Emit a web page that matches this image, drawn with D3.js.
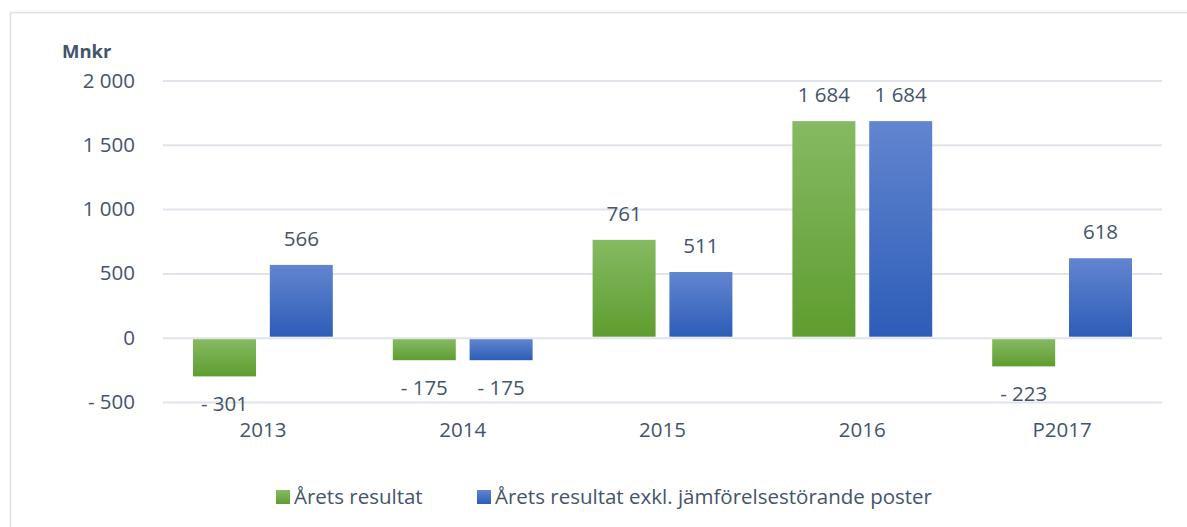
<!DOCTYPE html>
<html>
<head>
<meta charset="utf-8">
<script src="https://cdn.jsdelivr.net/npm/d3@7"></script>
<style>
  html, body { margin: 0; padding: 0; background: #fff; }
  svg { display: block; font-family: "Open Sans", "Noto Sans", sans-serif; }
</style>
</head>
<body>
<div class="container"></div>
<script>
// data
const categories = ["2013", "2014", "2015", "2016", "P2017"];
const seriesNames = ["Årets resultat", "Årets resultat exkl. jämförelsestörande poster"];
const aretsResultat = [-301, -175, 761, 1684, -223];
const exklJmf = [566, -175, 511, 1684, 618];
const yTicks = [-500, 0, 500, 1000, 1500, 2000];

const W = 1187, H = 527;
const margin = { top: 80.5, right: 25, bottom: 125, left: 163 };
const width = W - margin.left - margin.right;
const height = 402 - 80.5;

const textColor = "#44546a";
const fontSize = "20.5px";
const fmt = v => {
  const s = d3.format(",")(Math.abs(v)).replace(/,/g, " ");
  return v < 0 ? "- " + s : s;
};

const svg = d3.select(".container").append("svg")
  .attr("width", W).attr("height", H);

// gradients
const defs = svg.append("defs");
const grads = [
  { id: "gGreen", top: "#86ba63", bottom: "#5e9d2f" },
  { id: "gBlue", top: "#6285d0", bottom: "#2d5db7" }
];
grads.forEach(g => {
  const lg = defs.append("linearGradient").attr("id", g.id)
    .attr("x1", 0).attr("y1", 0).attr("x2", 0).attr("y2", 1);
  lg.append("stop").attr("offset", "0%").attr("stop-color", g.top);
  lg.append("stop").attr("offset", "100%").attr("stop-color", g.bottom);
});

// outer frame
svg.append("rect")
  .attr("x", 10.5).attr("y", 12.5)
  .attr("width", W + 20).attr("height", H + 20)
  .attr("fill", "none").attr("stroke", "#dde1e7").attr("stroke-width", 1.5);

const g = svg.append("g").attr("transform", `translate(${margin.left},${margin.top})`);

const x = d3.scaleBand().domain(categories).range([0, width]).padding(0);
const xs = d3.scaleBand().domain([0, 1]).range([30, x.bandwidth() - 30]).paddingInner(0.18);
const y = d3.scaleLinear().domain([-500, 2000]).range([height, 0]);

// grid + y axis
g.append("g")
  .call(d3.axisLeft(y).tickValues(yTicks).tickSize(0).tickPadding(28).tickFormat(fmt))
  .call(a => a.select(".domain").remove())
  .call(a => a.selectAll(".tick line").clone()
    .attr("x2", width).attr("stroke", "#e1e4ea").attr("stroke-width", 2))
  .call(a => a.selectAll(".tick text")
    .style("font-size", fontSize).style("fill", textColor)
    .style("font-family", "'Open Sans', sans-serif"));

// unit label
svg.append("text")
  .attr("x", 62).attr("y", 58)
  .style("font-size", "18.5px").style("font-weight", "bold").style("fill", textColor)
  .text("Mnkr");

// bars
const series = [aretsResultat, exklJmf];
const fills = ["url(#gGreen)", "url(#gBlue)"];
series.forEach((vals, si) => {
  const grp = g.append("g");
  grp.selectAll("rect").data(vals).enter().append("rect")
    .attr("x", (d, i) => x(categories[i]) + xs(si))
    .attr("width", xs.bandwidth())
    .attr("y", d => d >= 0 ? y(d) : y(0) + 1.5)
    .attr("height", d => d >= 0 ? y(0) - y(d) - 1 : y(d) - y(0) - 1.5)
    .attr("fill", fills[si]);
  grp.selectAll("text").data(vals).enter().append("text")
    .attr("x", (d, i) => x(categories[i]) + xs(si) + xs.bandwidth() / 2)
    .attr("y", d => d >= 0 ? y(d) - 19 : y(d) + 35)
    .attr("text-anchor", "middle")
    .style("font-size", fontSize).style("fill", textColor)
    .text(d => fmt(d));
});

// x axis labels
g.append("g")
  .attr("transform", `translate(0,${height})`)
  .call(d3.axisBottom(x).tickSize(0).tickPadding(20))
  .call(a => a.select(".domain").remove())
  .call(a => a.selectAll(".tick text")
    .style("font-size", fontSize).style("fill", textColor)
    .style("font-family", "'Open Sans', sans-serif"));

// legend
const legendItems = [
  { name: seriesNames[0], fill: "url(#gGreen)", x: 276 },
  { name: seriesNames[1], fill: "url(#gBlue)", x: 477 }
];
const lg = svg.append("g");
legendItems.forEach(it => {
  lg.append("rect").attr("x", it.x).attr("y", 490).attr("width", 14).attr("height", 14)
    .attr("fill", it.fill);
  lg.append("text").attr("x", it.x + 18).attr("y", 504)
    .style("font-size", fontSize).style("fill", textColor)
    .text(it.name);
});
</script>
</body>
</html>
